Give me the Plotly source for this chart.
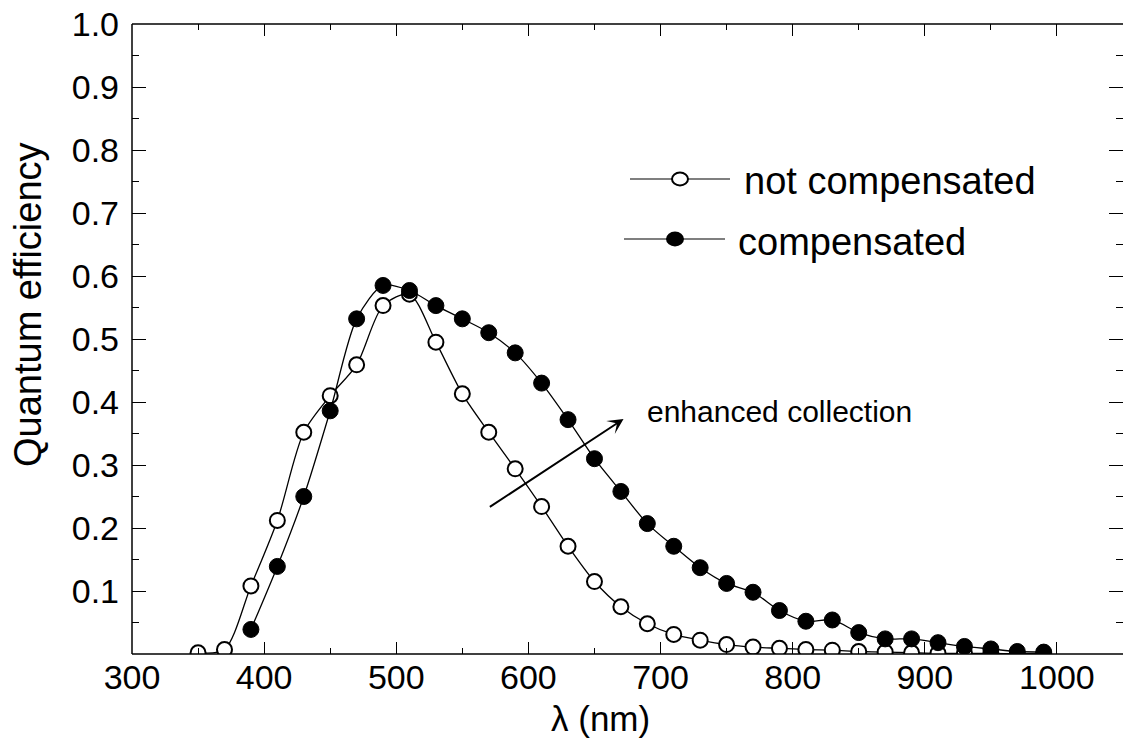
import plotly.graph_objects as go

# ---- data ----
wl_open = [350, 370, 390, 410, 430, 450, 470, 490, 510, 530, 550, 570, 590, 610, 630, 650,
           670, 690, 710, 730, 750, 770, 790, 810, 830, 850, 870, 890, 910, 930, 950, 970, 990]
qe_open = [0.002, 0.007, 0.108, 0.212, 0.352, 0.410, 0.459, 0.553, 0.571, 0.495, 0.413, 0.352,
           0.294, 0.234, 0.171, 0.115, 0.075, 0.048, 0.031, 0.022, 0.015, 0.011, 0.009, 0.007,
           0.006, 0.004, 0.003, 0.002, 0.001, 0.001, 0.001, 0.0005, 0.0005]

wl_fill = [390, 410, 430, 450, 470, 490, 510, 530, 550, 570, 590, 610, 630, 650, 670, 690,
           710, 730, 750, 770, 790, 810, 830, 850, 870, 890, 910, 930, 950, 970, 990]
qe_fill = [0.039, 0.139, 0.250, 0.386, 0.532, 0.585, 0.577, 0.553, 0.532, 0.510, 0.478, 0.430,
           0.372, 0.310, 0.258, 0.207, 0.171, 0.137, 0.112, 0.098, 0.069, 0.052, 0.054, 0.034,
           0.024, 0.024, 0.018, 0.012, 0.008, 0.004, 0.003]

names = ["not compensated", "compensated"]
y_ticks = [0.1, 0.2, 0.3, 0.4, 0.5, 0.6, 0.7, 0.8, 0.9, 1.0]
y_ticktext = ["0.1", "0.2", "0.3", "0.4", "0.5", "0.6", "0.7", "0.8", "0.9", "1.0"]
x_ticks = [300, 400, 500, 600, 700, 800, 900, 1000]

FONT = "Arial, 'Liberation Sans', sans-serif"
W, H = 1123, 740
ML, MR, MT, MB = 132, 0, 24, 86
PW, PH = W - ML - MR, H - MT - MB

def px2paper(x, y):
    return (x - ML) / PW, (H - MB - y) / PH

fig = go.Figure()
fig.add_trace(go.Scatter(
    x=wl_open, y=qe_open, mode="lines+markers", name=names[0], showlegend=False,
    line=dict(color="black", width=1.3, shape="spline", smoothing=0.8),
    marker=dict(symbol="circle", size=15, color="white", line=dict(color="black", width=2)),
))
fig.add_trace(go.Scatter(
    x=wl_fill, y=qe_fill, mode="lines+markers", name=names[1], showlegend=False,
    line=dict(color="black", width=1.3, shape="spline", smoothing=0.8),
    marker=dict(symbol="circle", size=16, color="black", line=dict(color="black", width=1)),
))

shapes = []
annotations = []
# frame (left, bottom, top); right edge falls outside the picture
for (x0, y0, x1, y1) in [(0, 0, 0, 1), (0, 0, 1, 0), (0, 1, 1, 1)]:
    shapes.append(dict(type="line", xref="paper", yref="paper", x0=x0, y0=y0, x1=x1, y1=y1,
                       line=dict(color="black", width=1.5), layer="above"))

# manual legend
legend_items = [
    dict(x0=630, x1=730, y=179, mx=680, fill="white", tx=742, ty=181, text=names[0]),
    dict(x0=624, x1=725, y=239, mx=675, fill="black", tx=736, ty=242, text=names[1]),
]
for it in legend_items:
    a, b = px2paper(it["x0"], it["y"])
    c, _ = px2paper(it["x1"], it["y"])
    shapes.append(dict(type="line", xref="paper", yref="paper", x0=a, x1=c, y0=b, y1=b,
                       line=dict(color="#555555", width=1.6)))
    mx, my = px2paper(it["mx"], it["y"])
    shapes.append(dict(type="circle", xref="paper", yref="paper", xsizemode="pixel",
                       ysizemode="pixel", xanchor=mx, yanchor=my, x0=-8, x1=8, y0=-6.5, y1=6.5,
                       fillcolor=it["fill"], line=dict(color="black", width=2)))
    tx, ty = px2paper(it["tx"], it["ty"])
    annotations.append(dict(xref="paper", yref="paper", x=tx, y=ty, xanchor="left",
                            yanchor="middle", text=it["text"], showarrow=False,
                            font=dict(family=FONT, size=38, color="black")))

# arrow + label
annotations.append(dict(x=672, y=0.373, ax=569.7, ay=0.232, xref="x", yref="y",
                        axref="x", ayref="y", text="", showarrow=True, arrowhead=3,
                        arrowsize=1.3, arrowwidth=2, arrowcolor="black"))
lx, ly = px2paper(645, 411)
annotations.append(dict(xref="paper", yref="paper", x=lx, y=ly, xanchor="left", yanchor="middle",
                        text="enhanced collection", showarrow=False,
                        font=dict(family=FONT, size=30, color="black")))
# axis titles
tx, ty = px2paper(600, 718)
annotations.append(dict(xref="paper", yref="paper", x=tx, y=ty, xanchor="center", yanchor="middle",
                        text="λ (nm)", showarrow=False, font=dict(family=FONT, size=35, color="black")))
tx, ty = px2paper(28, 305)
annotations.append(dict(xref="paper", yref="paper", x=tx, y=ty, xanchor="center", yanchor="middle",
                        text="Quantum efficiency", textangle=-90, showarrow=False,
                        font=dict(family=FONT, size=38, color="black")))

fig.update_layout(
    width=W, height=H, margin=dict(l=ML, r=MR, t=MT, b=MB),
    paper_bgcolor="white", plot_bgcolor="white",
    shapes=shapes, annotations=annotations, showlegend=False,
    font=dict(family=FONT, color="black"),
)
fig.update_xaxes(
    range=[300, 1050], tickmode="array", tickvals=x_ticks,
    ticks="inside", ticklen=12, tickwidth=1.3, tickcolor="black",
    minor=dict(dtick=50, tick0=300, ticks="inside", ticklen=6, tickwidth=1.2, tickcolor="black"),
    showline=False, mirror="ticks",
    showgrid=False, zeroline=False, tickfont=dict(family=FONT, size=34, color="black"),
    ticklabelstandoff=0,
)
fig.update_yaxes(
    range=[0, 1.0], tickmode="array", tickvals=y_ticks, ticktext=y_ticktext,
    ticks="inside", ticklen=14, tickwidth=1.3, tickcolor="black",
    minor=dict(dtick=0.05, tick0=0, ticks="inside", ticklen=7, tickwidth=1.2, tickcolor="black"),
    showline=False, mirror="ticks",
    showgrid=False, zeroline=False, tickfont=dict(family=FONT, size=34, color="black"),
    ticklabelstandoff=12,
)

fig.write_html("out.html")
